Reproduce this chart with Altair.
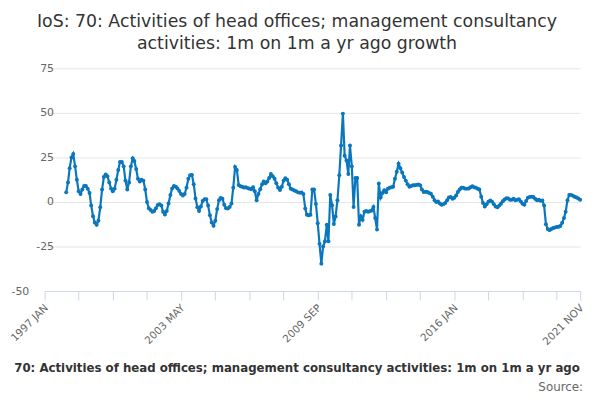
import json
import pandas as pd
import altair as alt

# Text of the chart
title_lines = ["IoS: 70: Activities of head offices; management consultancy",
               "activities: 1m on 1m a yr ago growth"]
series_name = "70: Activities of head offices; management consultancy activities: 1m on 1m a yr ago"
source_text = "Source:"

# Monthly growth (%), 1998 JAN .. 2021 NOV
first_month = "1998-01-01"
growth = [
    5.4, 11, 19, 25, 27, 20, 12.5, 6, 4.5, 7,
    9, 9, 7.5, 5, -2, -8, -11.5, -12.8, -10.5, -3,
    7, 14, 15.5, 14.5, 11, 7.5, 6, 7.5, 12.5, 18,
    22.5, 22.5, 20, 12, 7, 11, 20, 24.5, 23, 18.5,
    13, 11.5, 12.5, 12, 7, 0, -3.5, -4.5, -5.5, -5,
    -3.5, -1.7, -1.3, -2, -5.5, -7, -5, -0.9, 3.9, 7.6,
    9, 8.5, 7.6, 6.2, 4.5, 3.7, 4.5, 8, 13, 15,
    15.2, 10, 2, -3, -5, -2.5, 0.5, 1.5, 1.5, -2,
    -7.5, -11.5, -13.3, -10.5, -4, 1, 2.2, 1.8, -1.5, -3.5,
    -3.7, -2.8, -0.9, 8, 19.6, 18, 9.5, 8.8, 8.5, 8.1,
    8.3, 7.8, 7.5, 7.2, 8.3, 6, 1, 4.5, 7.2, 10,
    11.5, 10.5, 11.5, 13.5, 15.7, 14.5, 13, 10.5, 8, 6.7,
    8.5, 12, 13.3, 12.5, 10, 7.4, 7, 6.5, 6, 5.4,
    5.2, 5.3, 4.5, -3.6, -7.2, -7.5, -7.2, 7, 7, -1.1,
    -11.9, -23.5, -34.6, -25, -22, -12.8, -22, 3.9, -1.8, -12.3,
    -8.1, 1, 15, 31.7, 49.6, 26, 23.3, 15.7, 31.7, 20,
    -2.8, 13.5, 13.5, -12.8, -8, -10, -5.5, -5, -5.5, -5.2,
    -4.8, -2.8, -9, -15.5, 10.4, 2.5, 5, 6.6, 5.5, 7.4,
    8, 8.3, 8.5, 13, 17, 21.5, 19, 16.5, 14, 12,
    10, 8.5, 9, 9.4, 9.4, 9.6, 9.8, 9.4, 7, 5.6,
    5.8, 5.6, 5, 4.6, 3, 1, 0, 0.3, -0.9, -1.6,
    -1.2, -0.5, 1, 2.5, 2.8, 1.8, 2.4, 3.7, 5.6, 7,
    8, 8, 7.5, 7.5, 7.6, 8.3, 8.8, 8.3, 8, 7.4,
    7, 3, -0.5, -2.5, -1.3, 0.2, 0.9, 0.2, -1.2, -2.6,
    -3, -2, -1, 0.4, 1.4, 2.1, 2, 1.2, 1.3, 1.8,
    1, 1.3, 1.5, 0.3, -1, -1.6, 0.5, 2.4, 2.8, 3,
    2.8, 1.8, 1, 1.2, 0.7, 0.8, -2, -12.5, -15.2, -15.8,
    -15.2, -14.6, -14.3, -14, -13.9, -13.5, -11.7, -9, -5.5, 1,
    4, 4, 3.5, 2.9, 2.5, 2, 1.3,
]

# x axis: category range and labelled ticks
axis_start = "1997-01-01"
axis_end = "2021-11-01"
major_labels = ["1997 JAN", "2003 MAY", "2009 SEP", "2016 JAN", "2021 NOV"]
tick_step = "19MS"
y_ticks = [-50, -25, 0, 25, 50, 75]

df = pd.DataFrame({
    "month": pd.date_range(first_month, periods=len(growth), freq="MS").strftime("%Y-%m-%d"),
    "growth": growth,
})


def utc_dt(ts):
    return alt.DateTime(year=ts.year, month=ts.month, date=1, utc=True)


tick_dates = list(pd.date_range(axis_start, axis_end, freq=tick_step)) + [pd.Timestamp(axis_end)]
tick_values = [utc_dt(d) for d in tick_dates]
x_domain = [utc_dt(pd.Timestamp(axis_start)), utc_dt(pd.Timestamp(axis_end))]

fmt = "upper(utcFormat(datum.value, '%Y %b'))"
label_expr = f"indexof({json.dumps(major_labels)}, {fmt}) >= 0 ? {fmt} : ''"

FONT = "DejaVu Sans"
BLUE = "#0a77bd"

line = alt.Chart(df).mark_line(
    color=BLUE, strokeWidth=2.2,
    point=alt.OverlayMarkDef(color=BLUE, size=16, filled=True)
).encode(
    x=alt.X("month:T",
            scale=alt.Scale(type="utc", domain=x_domain),
            axis=alt.Axis(values=tick_values, labelExpr=label_expr, title=None,
                          grid=False, labelAngle=315, labelAlign="right",
                          labelBaseline="middle", labelPadding=6, labelOffset=1.5,
                          labelOverlap=False,
                          domainColor="#ccd6eb", tickColor="#ccd6eb", tickSize=9,
                          labelColor="#666666", labelFontSize=10.5, labelFont=FONT)),
    y=alt.Y("growth:Q",
            scale=alt.Scale(domain=[-50, 75], nice=False, zero=False),
            axis=alt.Axis(values=y_ticks, title=None, domain=False, ticks=False,
                          tickSize=0, gridColor="#e6e6e6", labelExpr="'' + datum.value",
                          labelColor="#666666", labelFontSize=11, labelFont=FONT,
                          labelPadding={"condition": {"test": "datum.value === -50", "value": 16},
                                        "value": -9})),
)

one_row = pd.DataFrame({"n": [0]})

title = alt.Chart(one_row).mark_text(
    align="center", baseline="alphabetic", fontSize=17.5, font=FONT,
    color="#333333", lineHeight=22
).encode(x=alt.value(255), y=alt.value(-42), text=alt.value(title_lines))

legend_text = alt.Chart(one_row).mark_text(
    align="center", baseline="alphabetic", fontSize=11.9, font=FONT,
    fontWeight="bold", color="#333333"
).encode(x=alt.value(255), y=alt.value(307), text=alt.value(series_name))

source = alt.Chart(one_row).mark_text(
    align="right", baseline="alphabetic", fontSize=12, font=FONT, color="#666666"
).encode(x=alt.value(544), y=alt.value(326), text=alt.value(source_text))

chart = alt.layer(line, title, legend_text, source).properties(
    width=541,
    height=225,
    padding={"left": 37, "top": 59, "right": 12, "bottom": 102},
    autosize=alt.AutoSizeParams(type="none"),
).configure_view(stroke=None)

chart.save("out.html", embed_options={"renderer": "svg", "actions": False})
